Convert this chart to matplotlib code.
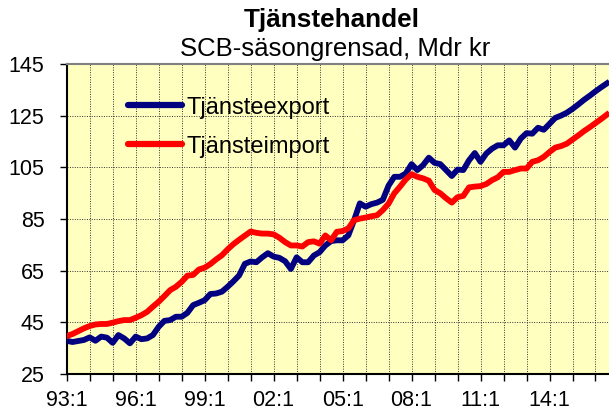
import numpy as np
import matplotlib
matplotlib.use("Agg")
import matplotlib.pyplot as plt
from matplotlib.ticker import MultipleLocator, FixedLocator

plt.rcParams['font.family'] = ['Liberation Sans', 'DejaVu Sans']

# kvartalsdata 93:1 - 16:3, Mdr kr
export = [37.9, 37.4, 37.8, 38.2,
          39.2, 37.9, 39.5, 39.1,
          37.1, 40.1, 38.8, 36.9,
          39.5, 38.5, 38.8, 40.1,
          43.3, 45.6, 45.9, 47.2,
          47.2, 48.7, 51.7, 52.6,
          53.6, 56.0, 56.2, 56.9,
          58.8, 60.9, 63.2, 67.7,
          68.6, 68.3, 70.2, 71.8,
          70.5, 70.0, 68.7, 65.7,
          70.2, 68.3, 68.3, 70.9,
          72.2, 74.8, 76.5, 76.8,
          76.8, 78.7, 84.6, 91.1,
          89.8, 90.8, 91.4, 92.5,
          98.0, 101.4, 101.4, 102.7,
          106.3, 104.0, 105.9, 108.8,
          106.8, 106.3, 104.0, 101.7,
          104.2, 104.0, 107.8, 110.6,
          107.2, 110.4, 112.3, 113.6,
          113.6, 115.5, 112.7, 116.2,
          118.3, 118.1, 120.4, 119.6,
          121.9, 124.2, 125.1, 126.2,
          127.7, 129.4, 131.2, 132.8,
          134.5, 136.1, 137.6]

imp = [39.7, 40.5, 41.6, 42.7,
       43.6, 44.2, 44.4, 44.4,
       44.9, 45.5, 45.9, 45.9,
       46.8, 47.8, 49.1, 51.1,
       53.0, 55.2, 57.5, 58.8,
       60.7, 63.1, 63.4, 65.5,
       66.2, 67.6, 69.4, 71.0,
       73.3, 75.3, 77.0, 78.6,
       80.2, 79.7, 79.4, 79.4,
       79.1, 77.8, 76.1, 74.8,
       74.8, 74.4, 76.1, 76.4,
       75.5, 78.7, 76.8, 80.1,
       80.4, 81.4, 84.6, 85.2,
       85.6, 86.1, 86.5, 88.5,
       91.0, 95.0, 97.6, 100.4,
       102.4, 101.4, 100.8, 99.9,
       96.3, 95.0, 93.1, 91.4,
       93.5, 94.0, 97.3, 97.6,
       97.8, 98.6, 100.1, 101.2,
       103.3, 103.3, 104.0, 104.6,
       104.6, 107.2, 107.8, 109.1,
       111.0, 112.7, 113.3, 114.2,
       115.8, 117.4, 119.1, 120.6,
       122.2, 123.8, 125.5]

label_years = [93, 96, 99, 2, 5, 8, 11, 14]
xlabels = ["%02d:1" % y for y in label_years]
yticks = [25, 45, 65, 85, 105, 125, 145]

q = np.arange(len(export))

fig = plt.figure(figsize=(6.09, 4.17), dpi=100)
ax = fig.add_axes([0.1095, 0.103, 0.8905, 0.743])
ax.set_facecolor("#FFFFC0")

ax.plot(q, export, color="#000080", lw=4.2, label="Tjänsteexport", zorder=3)
ax.plot(q, imp, color="#FF0000", lw=4.2, label="Tjänsteimport", zorder=3)

ax.set_xlim(0, 94.35)
ax.set_ylim(25, 145)
ax.set_yticks(yticks)
ax.xaxis.set_major_locator(FixedLocator(np.arange(0, 95, 12)))
ax.set_xticklabels(xlabels)
ax.xaxis.set_minor_locator(MultipleLocator(4))

ax.grid(True, which="both", axis="x", color="#333333", ls=(0, (1, 1.5)), lw=0.7)
ax.grid(True, which="major", axis="y", color="#333333", ls=(0, (1, 1.5)), lw=0.7)
ax.set_axisbelow(True)

ax.tick_params(axis="x", which="both", length=5, width=1, direction="out", labelsize=15.5, pad=6.5)
ax.tick_params(axis="y", length=5, width=1, direction="out", labelsize=15.5, pad=11)

for s in ["left", "bottom"]:
    ax.spines[s].set_color("black")
    ax.spines[s].set_linewidth(1.5)
ax.spines["top"].set_color("#808080")
ax.spines["top"].set_linewidth(1.5)
ax.spines["right"].set_visible(False)

leg = ax.legend(loc="upper left", bbox_to_anchor=(0.113, 0.895), frameon=False,
                fontsize=17, handlelength=2.3, handletextpad=0.2,
                labelspacing=0.72, borderpad=0, borderaxespad=0)
for h in leg.get_lines():
    h.set_linewidth(4.5)
    h.set_solid_capstyle("round")

fig.text(0.545, 0.952, "Tjänstehandel", ha="center", va="center", fontsize=18.8, fontweight="bold")
fig.text(0.55, 0.882, "SCB-säsongrensad, Mdr kr", ha="center", va="center", fontsize=18.5)

fig.savefig("out.png", dpi=100)
